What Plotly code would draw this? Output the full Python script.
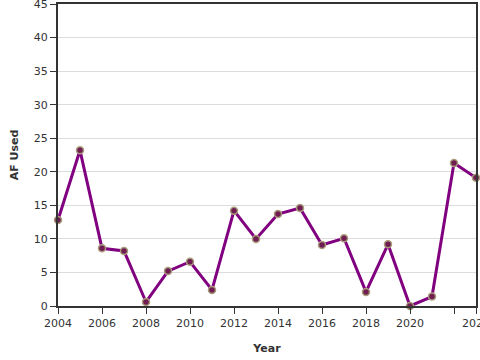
import plotly.graph_objects as go

years = list(range(2004, 2024))
af_used = [12.8, 23.2, 8.6, 8.2, 0.6, 5.2, 6.6, 2.4, 14.2, 10.0, 13.7, 14.6,
           9.1, 10.1, 2.1, 9.2, 0.0, 1.4, 21.3, 19.1]
x_tickvals = [2004, 2006, 2008, 2010, 2012, 2014, 2016, 2018, 2020, 2022, 2023]
x_ticktext = ["2004", "2006", "2008", "2010", "2012", "2014", "2016", "2018", "2020", "", "2023"]
y_tickvals = [0, 5, 10, 15, 20, 25, 30, 35, 40, 45]

fig = go.Figure()
fig.add_trace(go.Scatter(
    x=years, y=af_used, mode="lines+markers",
    line=dict(color="#800080", width=3),
    marker=dict(size=7, color="#701d52", line=dict(color="#a89c7c", width=1.5)),
    cliponaxis=False,
))

font = "DejaVu Sans, Verdana, sans-serif"
fig.update_layout(
    width=480, height=360,
    margin=dict(l=58, r=4, t=4, b=54, autoexpand=False),
    plot_bgcolor="white", paper_bgcolor="white",
    showlegend=False,
    font=dict(family=font, size=11, color="#333"),
    xaxis=dict(
        range=[2004, 2023], tickvals=x_tickvals, ticktext=x_ticktext,
        showgrid=False, zeroline=False, automargin=False,
        ticklabeloverflow="allow",
        showline=True, linecolor="#333", linewidth=2, mirror=True,
        ticks="outside", ticklen=6, tickcolor="#333",
        tickfont=dict(size=11, color="#333"),
        title=dict(text="<b>Year</b>", font=dict(size=11, color="#333"), standoff=15),
    ),
    yaxis=dict(
        range=[0, 45], tickvals=y_tickvals,
        showgrid=True, gridcolor="#dcdcdc", gridwidth=1, zeroline=False, automargin=False,
        ticklabeloverflow="allow",
        showline=True, linecolor="#333", linewidth=2, mirror=True,
        ticks="outside", ticklen=6, tickcolor="#333",
        tickfont=dict(size=11, color="#333"),
        title=dict(text="<b>AF Used</b>", font=dict(size=11, color="#333"), standoff=13),
    ),
)

fig.write_html("out.html", config={"displayModeBar": False},
               post_script="document.body.style.margin='0';")
